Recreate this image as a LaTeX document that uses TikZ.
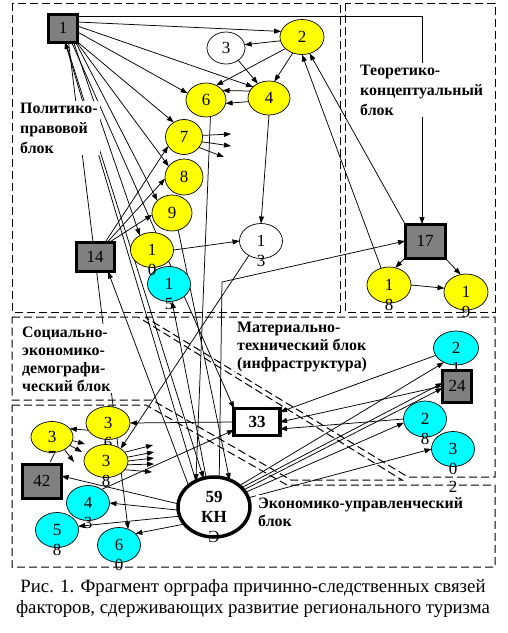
\documentclass[tikz,border=0pt]{standalone}
\usepackage{fontspec}
\setmainfont{Liberation Serif}
\usetikzlibrary{shapes.geometric,arrows.meta,backgrounds}
\definecolor{ye}{RGB}{255,255,0}
\definecolor{cy}{RGB}{0,255,255}
\definecolor{gr}{RGB}{128,128,128}
\newcommand\mydg{\fontsize{17}{20}\selectfont}
\newcommand\mybl[1]{\fontsize{15.9}{#1}\selectfont\bfseries}
\newcommand\mycap{\fontsize{18.8}{21}\selectfont}
\begin{document}
\begin{tikzpicture}[x=1pt,y=-1pt,
 base/.style={inner sep=0pt, outer sep=0pt, font=\mydg, line width=0.7pt},
 yel/.style={base, ellipse, draw, fill=ye},
 cya/.style={base, ellipse, draw, fill=cy},
 wht/.style={base, ellipse, draw, fill=white},
 gsq/.style={base, rectangle, draw, fill=gr, line width=3pt},
 sz/.style 2 args={minimum width=#1pt, minimum height=#2pt},
 sub/.style={label={[base, yshift=-20pt]center:#1}},
 ed/.style={line width=0.75pt, -{Triangle[length=7pt,width=5pt]}},
 blk/.style={line width=1pt, dash pattern=on 8pt off 4pt},
 txt/.style={fill=white, inner sep=2pt, align=left}]
\useasboundingbox (0,0) rectangle (507,633);

% nodes
\node[gsq, sz={29}{28}] (n1) at (63,28) {1};
\node[yel, sz={44}{35}] (n2) at (302,37) {2};
\node[wht, sz={38}{32}] (n3) at (226,48) {3};
\node[yel, sz={42}{34}] (n4) at (269,98) {4};
\node[yel, sz={40}{34}] (n6) at (206,100) {6};
\node[yel, sz={37}{35}] (n7) at (184,137) {7};
\node[yel, sz={38}{36}] (n8) at (184,177) {8};
\node[yel, sz={40}{36}] (n9) at (172,213) {9};
\node[cya, sz={43}{35}, sub=5] (n15) at (169,284) {1};
\node[yel, sz={43}{35}, sub=0] (n10) at (152,250) {1};
\node[wht, sz={43}{35}, sub=3] (n13) at (261,241) {1};
\node[gsq, sz={38}{29}] (n14) at (95,257) {14};
\node[gsq, sz={40}{34}] (n17) at (425,241) {17};
\node[yel, sz={44}{36}, sub=8] (n18) at (389,285) {1};
\node[yel, sz={44}{36}, sub=9] (n19) at (466,292) {1};
\node[cya, sz={45}{34}, sub=1] (n21) at (456,348) {2};
\node[gsq, sz={29}{32}] (n24) at (457,386) {24};
\node[cya, sz={43}{36}, sub=8] (n28) at (425,419) {2};
\node[cya, sz={43}{35}, sub=0, label={[base,yshift=-38pt]center:2}] (n30) at (453,449) {3};
\node[base, rectangle, draw, fill=white, line width=3.5pt, sz={46}{27}, font=\mydg\bfseries] (n33) at (257,422) {33};
\node[yel, sz={44}{33}, sub=6] (n36) at (108,423) {3};
\node[yel, sz={42}{31}, sub=7] (n37) at (52,437) {3};
\node[yel, sz={44}{33}, sub=8] (n38) at (106,461) {3};
\node[gsq, sz={39}{34}] (n42) at (42,481) {42};
\node[cya, sz={43}{35}, sub=3] (n43) at (88,503) {4};
\node[cya, sz={43}{35}, sub=8] (n58) at (57,530) {5};
\node[cya, sz={43}{35}, sub=0] (n60) at (119,545) {6};
\node[base, ellipse, draw, fill=white, line width=3.5pt, sz={72}{60}, align=center, font=\mydg\bfseries, label={[base,yshift=-30pt]center:Э}] (n59) at (214,507) {59\\КН};

% block texts (base = baseline of last line)
\node[txt, anchor=base west, font={\mybl{20}}] (tpol) at (18,153) {Политико-\\правовой\\блок};
\node[txt, anchor=base west, font={\mybl{20}}] (tteo) at (358,115) {Теоретико-\\концептуальный\\блок};
\node[txt, anchor=base west, font={\mybl{18}}] (tsoc) at (20,391) {Социально-\\экономико-\\демографи-\\ческий блок};
\node[txt, anchor=base west, font={\mybl{18}}] (tmat) at (235,368) {Материально-\\технический блок\\(инфраструктура)};
\node[txt, anchor=base west, font={\mybl{18}}] (teco) at (256,526) {Экономико-управленческий\\блок};
\node[anchor=base, align=center, font=\mycap] (tcap) at (253,613) {Рис. 1. Фрагмент орграфа причинно-следственных связей\\факторов, сдерживающих развитие регионального туризма};

% stub ends and bends
\coordinate (s7a) at (231,134);
\coordinate (s7b) at (231,146);
\coordinate (s7c) at (224,157);
\coordinate (s37a) at (85,444);
\coordinate (s37b) at (82,452);
\coordinate (s37c) at (74,462);
\coordinate (s38a) at (153,445);
\coordinate (s38b) at (154,452);
\coordinate (s38c) at (154,458);
\coordinate (s38d) at (154,464);
\coordinate (s38e) at (152,472);
\coordinate (b17) at (222,282);

\begin{scope}[on background layer]
% blocks
\draw[blk] (12,3) rectangle (340,312);
\draw[blk] (345,3) rectangle (495,312);
\draw[blk] (12,317) -- (138,317) -- (402,480) -- (291,480) -- (152,400) -- (12,400) -- cycle;
\draw[blk] (145,317) -- (495,317) -- (495,477) -- (408,477) -- cycle;
\draw[blk] (12,405) -- (146,405) -- (287,485) -- (495,485) -- (495,567) -- (12,567) -- cycle;
% edges from 1
\draw[ed] ([yshift=6pt]n1.east) -- (n2.165);
\draw[ed] ([yshift=-2pt]n1.north east) -| ([xshift=-3pt]n17.north);
\draw[ed] ([yshift=2pt]n1.east) -- (n4.145);
\draw[ed] ([yshift=-4pt]n1.east) -- (n6.160);
\draw[ed] (n1.south east) -- (n7.125);
\draw[ed] ([xshift=-1pt]n1.south east) -- (n8.145);
\draw[ed] ([xshift=-2pt]n1.south east) -- (n9.140);
\draw[ed] ([xshift=-4pt]n1.south east) -- (n10.130);
\draw[ed] ([xshift=-6pt]n1.south east) -- (n33.north west);
\draw[ed] ([xshift=-9pt]n1.south east) -- (n60.60);
\draw[ed] ([xshift=-12pt]n1.south east) -- (n59.110);
\draw[ed] (n59.125) -- ([xshift=2pt]n1.south);
% upper block
\draw[ed] (n2.190) -- (n3.10);
\draw[ed] (n2.215) -- (n6.55);
\draw[ed] (n2.240) -- (n4.72);
\draw[ed] (n3.-45) -- (n4.128);
\draw[ed] (n4.190) -- (n6.-10);
\draw[ed] (n4.160) -- (n6.30);
\draw[ed] (n4.south) -- (n13.north);
\draw[ed] (n6.-75) -- (n59.125);
\draw[ed] (n9.-70) -- (n59.60);
\draw[ed] (n10.east) -- (n13.west);
\draw[ed] ([xshift=10pt]n14.north) -- (n7.210);
\draw[ed] ([xshift=12pt]n14.north) -- (n8.185);
\draw[ed] ([xshift=14pt]n14.north) -- (n9.185);
\draw[ed] (n59.140) -- ([xshift=13pt]n14.south);
\draw[ed] (n59.105) -- (n15.-80);
\draw[ed] (n59.80) -- (b17) -- (n17.west);
\draw[ed] (n7.5) -- (s7a);
\draw[ed] (n7.-15) -- (s7b);
\draw[ed] (n7.-35) -- (s7c);
% theoretical block
\draw[ed] (n17.north west) -- (n2.-65);
\draw[ed] (n18.115) -- (n2.-90);
\draw[ed] (n17.south west) -- (n18.70);
\draw[ed] (n17.south east) -- (n19.107);
\draw[ed] (n18.east) -- (n19.170);
% lower part
\draw[ed] (n21.200) -- ([yshift=10pt]n33.east);
\draw[ed] (n24.west) -- (n33.east);
\draw[ed] (n28.west) -- ([yshift=-7pt]n33.east);
\draw[ed] (n59.40) -- (n21.230);
\draw[ed] (n59.35) -- ([yshift=3pt]n24.west);
\draw[ed] (n59.30) -- ([yshift=-2pt]n24.west);
\draw[ed] (n59.25) -- (n28.190);
\draw[ed] (n59.15) -- (n30.west);
\draw[ed] (n33.west) -- (n36.east);
\draw[ed] (n36.200) -- (n37.25);
\draw[ed] (n43.45) -- ([yshift=-8pt]n33.west);
\draw[ed] (n13.-130) -- (n38.40);
\draw[ed] (n37.-10) -- (s37a);
\draw[ed] (n37.-25) -- (s37b);
\draw[ed] (n37.-45) -- (s37c);
\draw[ed] (n38.25) -- (s38a);
\draw[ed] (n38.10) -- (s38b);
\draw[ed] (n38.0) -- (s38c);
\draw[ed] (n38.-10) -- (s38d);
\draw[ed] (n38.-25) -- (s38e);
\draw[ed] (n59.175) -- ([yshift=5pt]n42.east);
\draw[ed] (n59.185) -- (n43.east);
\draw[ed] (n59.195) -- (n58.10);
\draw[ed] (n59.210) -- (n60.35);
\end{scope}
\end{tikzpicture}
\end{document}
